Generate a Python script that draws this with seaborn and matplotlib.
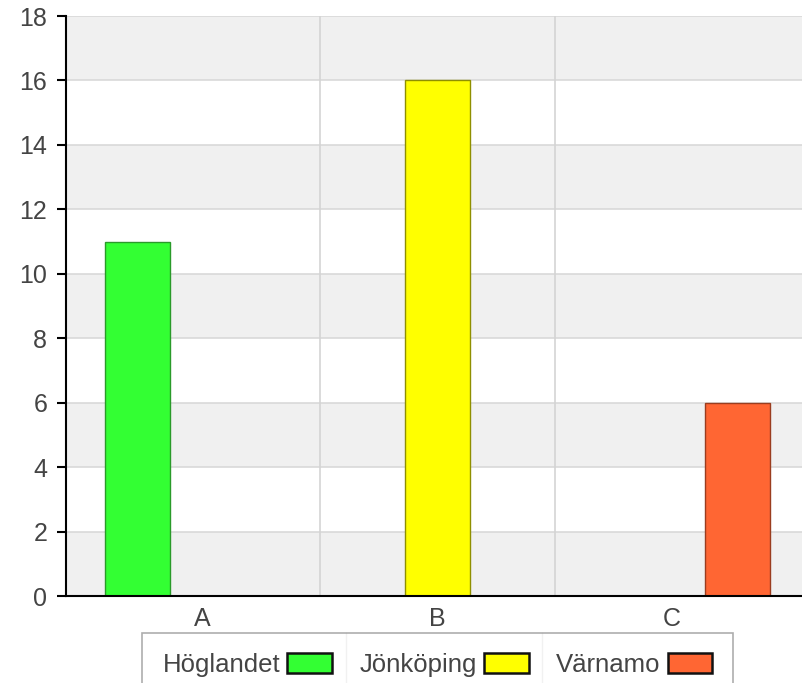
import matplotlib
matplotlib.use("Agg")
import matplotlib.pyplot as plt
from matplotlib.patches import Patch
from matplotlib.lines import Line2D
import seaborn as sns
import pandas as pd

categories = ["A", "B", "C"]
series = ["Höglandet", "Jönköping", "Värnamo"]
values = {
    "Höglandet": [11, 0, 0],
    "Jönköping": [0, 16, 0],
    "Värnamo": [0, 0, 6],
}
colors = ["#33ff33", "#ffff00", "#ff6633"]
edge_colors = ["#2a9a2a", "#8f8f00", "#9a3d1f"]
y_ticks = [0, 2, 4, 6, 8, 10, 12, 14, 16, 18]

rows = []
for s in series:
    for c, v in zip(categories, values[s]):
        rows.append({"category": c, "series": s, "value": v})
df = pd.DataFrame(rows)

sns.set_style("white")
plt.rcParams["font.family"] = ["Liberation Sans", "DejaVu Sans"]

FS = 18
LFS = 18.5
fig = plt.figure(figsize=(8.03, 6.83), dpi=100)
ax = fig.add_axes([66 / 803, 87 / 683, 1 - 66 / 803, (596 - 16) / 683])

# alternating bands
for i in range(0, 18, 4):
    ax.axhspan(i, i + 2, color="#f0f0f0", zorder=0, lw=0)
for t in y_ticks[1:]:
    ax.axhline(t, color="#d9d9d9", lw=1.2, zorder=0.5)
for xb in [0.5, 1.5]:
    ax.axvline(xb, color="#d4d4d4", lw=1.2, zorder=0.5)

sns.barplot(data=df, x="category", y="value", hue="series", order=categories,
            hue_order=series, palette=colors, width=0.83, legend=False,
            saturation=1, ax=ax, zorder=2)

for cont, ec in zip(ax.containers, edge_colors):
    for bar in cont:
        bar.set_edgecolor(ec)
        bar.set_linewidth(1.0)

ax.set_xlim(-0.579, 2.557)
ax.set_ylim(0, 18)
ax.set_yticks(y_ticks)
ax.set_yticklabels([str(t) for t in y_ticks])
ax.set_xticks([0, 1, 2])
ax.set_xticklabels(categories)
ax.set_xticks([0.5, 1.5], minor=True)
ax.tick_params(axis="x", which="major", length=0, pad=8, labelsize=FS, labelcolor="#444444")
ax.tick_params(axis="x", which="minor", length=5, width=1.5, color="black", direction="out")
ax.tick_params(axis="y", length=6.5, width=1.5, color="black", direction="out", pad=7,
               labelsize=FS, labelcolor="#444444", left=True)
ax.set_xlabel("")
ax.set_ylabel("")
for sp in ["top", "right"]:
    ax.spines[sp].set_visible(False)
for sp in ["left", "bottom"]:
    ax.spines[sp].set_color("black")
    ax.spines[sp].set_linewidth(1.5)
    ax.spines[sp].set_zorder(5)

handles = [Patch(facecolor=c, edgecolor="#111111", linewidth=1.8) for c in colors]
leg = fig.legend(handles, series, loc="upper center", bbox_to_anchor=(437.5 / 803, 1 - 633 / 683),
                 ncol=3, markerfirst=False, frameon=True, fancybox=False, fontsize=LFS,
                 handlelength=1.75, handleheight=0.78, handletextpad=0.28, columnspacing=1.05,
                 borderpad=0.78, borderaxespad=0)
leg.get_frame().set_edgecolor("#999999")
leg.get_frame().set_linewidth(1.2)
for t in leg.get_texts():
    t.set_color("#444444")

fig.canvas.draw()
renderer = fig.canvas.get_renderer()
fb = leg.get_frame().get_window_extent(renderer)
texts = leg.get_texts()
hs = leg.legend_handles
for i in range(2):
    hb = hs[i].get_window_extent(renderer)
    tb = texts[i + 1].get_window_extent(renderer)
    xsep = (hb.x1 + tb.x0) / 2
    fx = xsep / fig.bbox.width
    fig.add_artist(Line2D([fx, fx], [fb.y0 / fig.bbox.height, fb.y1 / fig.bbox.height],
                          transform=fig.transFigure, color="#bbbbbb", lw=1.0))

fig.savefig("out.png", dpi=100)
